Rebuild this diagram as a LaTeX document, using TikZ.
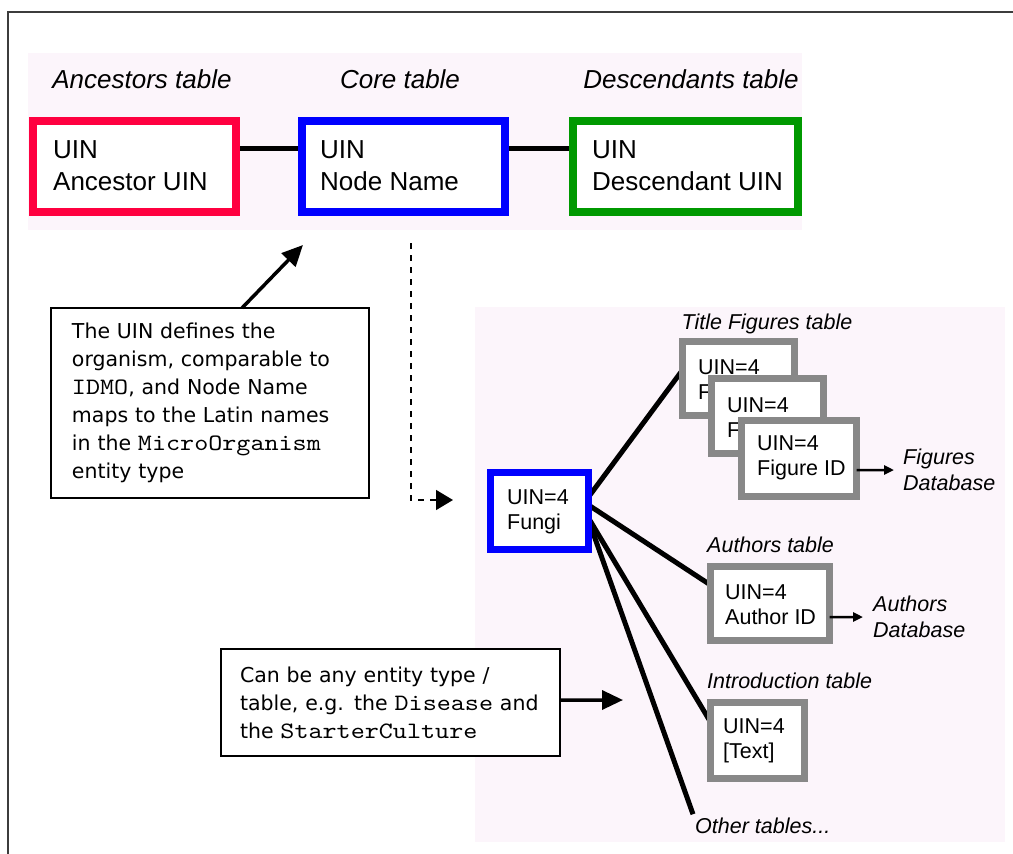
\documentclass[tikz,border=0pt]{standalone}
\usepackage{fontspec}
\setmainfont{Liberation Sans}
\newfontfamily\notefont{DejaVu Sans}
\newfontfamily\codefont[FakeStretch=1.14]{lmmono10-regular.otf}
\usetikzlibrary{arrows.meta}

\pgfdeclarelayer{panel}
\pgfdeclarelayer{links}
\pgfsetlayers{panel,links,main}

\definecolor{panelpink}{RGB}{252,245,251}
\definecolor{ancred}{RGB}{255,0,64}
\definecolor{coreblue}{RGB}{0,0,255}
\definecolor{descgreen}{RGB}{0,153,0}
\definecolor{subgray}{RGB}{136,136,136}
\definecolor{framegray}{RGB}{60,60,60}

% entity / attribute names in a typewriter face
\newcommand\cd[1]{{\codefont\fontsize{23.5bp}{28bp}\selectfont #1}}

\tikzset{
  tbl/.style={draw=#1, line width=8bp, fill=white, inner sep=0pt, outer sep=0pt},
  subtbl/.style={draw=subgray, line width=7bp, fill=white, inner sep=0pt, outer sep=0pt},
  bigtxt/.style={inner sep=0pt, anchor=west, align=left, font=\fontsize{26bp}{32bp}\selectfont},
  smalltxt/.style={inner sep=0pt, anchor=west, align=left, font=\fontsize{21.5bp}{25bp}\selectfont},
  bigcap/.style={inner sep=0pt, anchor=base, font=\fontsize{26bp}{32bp}\selectfont\itshape},
  smallcap/.style={inner sep=0pt, anchor=base west, font=\fontsize{21.5bp}{25bp}\selectfont\itshape},
  dbtxt/.style={inner sep=0pt, anchor=west, align=left, font=\fontsize{21.5bp}{26bp}\selectfont\itshape},
  note/.style={draw, line width=2bp, fill=white, inner xsep=#1, inner ysep=0pt, outer sep=0pt,
    align=left, font=\notefont\fontsize{20.5bp}{28bp}\selectfont},
  link/.style={line width=5bp},
  bigarrow/.style={line width=3.5bp, -{Triangle[length=21bp,width=19bp]}},
  smallarrow/.style={line width=2.5bp, -{Triangle[length=10bp,width=9bp]}},
  dasharrow/.style={line width=1.5bp, dash pattern=on 6bp off 6bp, -{Triangle[length=17bp,width=20bp]}},
}

\begin{document}
\begin{tikzpicture}[x=1bp, y=-1bp]
\useasboundingbox (0,0) rectangle (1013,854);

\begin{pgfonlayer}{panel}
  \fill[white] (0,0) rectangle (1013,854);
  \fill[panelpink] (28,53) rectangle (802,230);
  \fill[panelpink] (475,307) rectangle (1005,842);
\end{pgfonlayer}

% frame
\draw[line width=2bp, framegray] (8,854) -- (8,12) -- (1013,12);

% core tables
\node[bigcap] (ancC)  at (142,88) {Ancestors table};
\node[bigcap] (coreC) at (400,88) {Core table};
\node[bigcap] (descC) at (691,88) {Descendants table};

\node[tbl=ancred,    minimum width=203bp, minimum height=91bp] (anc)  at (134.5,166.5) {};
\node[tbl=coreblue,  minimum width=203bp, minimum height=91bp] (core) at (403.5,166.5) {};
\node[tbl=descgreen, minimum width=225bp, minimum height=91bp] (desc) at (685.5,166.5) {};
\node[bigtxt] (ancT)  at (53,166)  {UIN\\Ancestor UIN};
\node[bigtxt] (coreT) at (320,166) {UIN\\Node Name};
\node[bigtxt] (descT) at (592,166) {UIN\\Descendant UIN};

% example record and its linked tables
\node[tbl=coreblue, line width=7.5bp, minimum width=98bp, minimum height=77bp] (fungi) at (539.5,511) {};
\node[smalltxt] (fungiT) at (507,511.5) {UIN=4\\Fungi};

\node[smallcap, anchor=base] (figC) at (767,329) {Title Figures table};
\node[subtbl, minimum width=112bp, minimum height=74bp] (fig1) at (738.5,378.5) {};
\node[smalltxt] (fig1T) at (698,379.5) {UIN=4\\F};
\node[subtbl, minimum width=112bp, minimum height=75bp] (fig2) at (767.5,416) {};
\node[smalltxt] (fig2T) at (727,417.5) {UIN=4\\F};
\node[subtbl, minimum width=115bp, minimum height=76bp] (fig3) at (799,458.5) {};
\node[smalltxt] (fig3T) at (757,457.5) {UIN=4\\Figure ID};
\node[dbtxt] (figdb) at (903,470) {Figures\\Database};

\node[smallcap] (authC) at (707,552) {Authors table};
\node[subtbl, minimum width=119bp, minimum height=74bp] (auth) at (770,603.5) {};
\node[smalltxt] (authT) at (725,604.5) {UIN=4\\Author ID};
\node[dbtxt] (autdb) at (873,617) {Authors\\Database};

\node[smallcap] (introC) at (707,688) {Introduction table};
\node[subtbl, minimum width=94bp, minimum height=76bp] (intro) at (757.5,740.5) {};
\node[smalltxt] (introT) at (723,740.5) {UIN=4\\{}[Text]};

\node[smallcap] (other) at (695,833) {Other tables...};

% explanatory notes
\node[note=21bp, minimum width=318bp, minimum height=190bp, text width=276bp] (note1) at (210,403)
  {The UIN defines the\\organism, comparable to\\\cd{IDMO}, and Node Name\\maps to the Latin names\\in the \cd{MicroOrganism}\\entity type};
\node[note=19bp, minimum width=339bp, minimum height=107bp, text width=301bp] (note2) at (390.5,702.5)
  {\mbox{Can be any entity type /}\\\mbox{table, e.g. the \cd{Disease} and}\\\mbox{the \cd{StarterCulture}}};

\coordinate (tip1) at (303,245);
\coordinate (dashstart) at (411,243);
\coordinate (dashend) at (453,500);
\coordinate (tip2) at (623,700);

\draw[bigarrow] ([xshift=32bp]note1.north) -- (tip1);
\draw[dasharrow] (dashstart) |- (dashend);
\draw[bigarrow] ([yshift=2.5bp]note2.east) -- (tip2);

\draw[smallarrow] ([yshift=-11.5bp]fig3.east) -- ([xshift=-9bp]figdb.west);
\draw[smallarrow] ([yshift=-13.5bp]auth.east) -- ([xshift=-10bp]autdb.west);

\begin{pgfonlayer}{links}
  \draw[link] ([yshift=18.5bp]anc.east)  -- ([yshift=18.5bp]core.west);
  \draw[link] ([yshift=18.5bp]core.east) -- ([yshift=18.5bp]desc.west);
  \draw[link] ([yshift=14bp]fungi.east)  -- ([yshift=8.5bp]fig1.west);
  \draw[link] ([yshift=6bp]fungi.east)   -- ([yshift=18.5bp]auth.west);
  \draw[link] ([yshift=-7bp]fungi.east)  -- ([yshift=18.5bp]intro.west);
  \draw[link] ([yshift=-9bp]fungi.east)  -- ([xshift=-2bp,yshift=3bp]other.north west);
\end{pgfonlayer}
\end{tikzpicture}
\end{document}
